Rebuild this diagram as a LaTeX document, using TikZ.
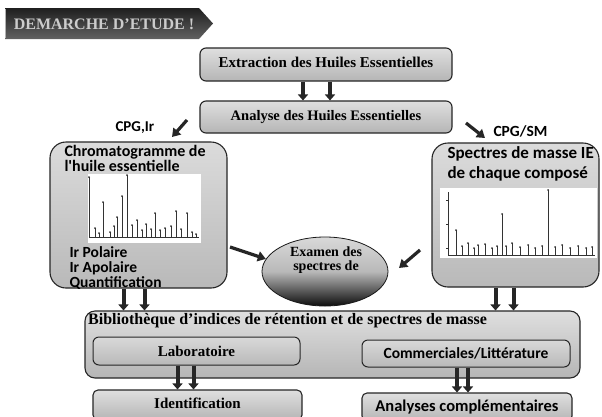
\documentclass[tikz,border=0pt]{standalone}
\usepackage{fontspec}
\setmainfont{Liberation Serif}
\newfontfamily\carl{Carlito}
\usetikzlibrary{shapes.geometric,arrows.meta,calc}
\begin{document}
\begin{tikzpicture}[x=1pt,y=-1pt,
  hbox/.style={draw=black!85, line width=1.1pt, rounded corners=6pt,
    top color=gray!25, bottom color=gray!58, inner sep=0pt},
  bigbox/.style={draw=black!85, line width=1.1pt, rounded corners=16pt,
    top color=gray!28, bottom color=gray!55, inner sep=0pt},
  inbox/.style={draw=black!85, line width=1pt, rounded corners=6pt,
    top color=gray!30, bottom color=gray!55, inner sep=0pt},
  sansT/.style={font=\carl\bfseries\fontsize{16}{16}\selectfont, text=black},
  barrow/.style={draw=black!85, line width=4pt, -{Triangle[width=10pt,length=6pt]}},
  darrow/.style={draw=black!85, line width=3.2pt, -{Triangle[width=10pt,length=8pt]}},
  peak/.style={draw=black!80, line width=0.45pt},
]
\useasboundingbox[fill=white] (0,0) rectangle (602,416);

% title banner
\shade[top color=black!88, bottom color=black!62] (5,8) -- (199,8) -- (213,23.5) -- (199,39) -- (5,39) -- cycle;
\draw[gray!60, line width=0.6pt] (5.5,9) -- (5.5,38);
\node[font=\bfseries\fontsize{16}{16}\selectfont, text=gray!40] (title) at (104,24) {DEMARCHE D'ETUDE !};

% top boxes
\node[hbox, minimum width=252pt, minimum height=33pt] (extr) at (326,64.5)
  {\raisebox{5pt}{\bfseries\fontsize{15}{15}\selectfont Extraction des Huiles Essentielles}};
\node[hbox, minimum width=252pt, minimum height=32pt] (anal) at (326,117)
  {\raisebox{4pt}{\bfseries\fontsize{14.5}{15}\selectfont Analyse des Huiles Essentielles}};

\draw[barrow] ([xshift=-23pt]extr.south) -- ([xshift=-23pt]extr.south |- anal.north);
\draw[barrow] ([xshift=4pt]extr.south) -- ([xshift=4pt]extr.south |- anal.north);

% CPG labels with small arrows
\node[sansT, font=\carl\bfseries\fontsize{15}{15}\selectfont, anchor=west] (cpgir) at (112,128) {CPG,Ir};
\coordinate (a1s) at (187,120);
\coordinate (a1e) at (172,137);
\draw[darrow] (a1s) -- (a1e);
\node[sansT, font=\carl\bfseries\fontsize{15.5}{15}\selectfont, anchor=west] (cpgsm) at (490,131) {CPG/SM};
\coordinate (a2s) at (466,123);
\coordinate (a2e) at (485,138);
\draw[darrow] (a2s) -- (a2e);

% left box: chromatogram
\node[bigbox, minimum width=177pt, minimum height=146pt] (lbox) at (138.5,215) {};
\node[sansT, anchor=north west, align=left, font=\carl\bfseries\fontsize{16}{15}\selectfont] (ltxt) at (61,142)
  {Chromatogramme de\\l'huile essentielle};
\fill[white] (88,174) rectangle (201,243);
\draw[peak] (89,237.5) -- (199,237.5);
\foreach \x/\t in {89/177,95/228,99/233,103/202,110/232,114/226,117/217,122/196,127/175,132/225,137/220,
  142/230,146/224,151/229,155/213,160/230,165/228,171/226,176/211,181/229,187/213,192/232,196/234}{
  \draw[peak] (\x,237.5) -- (\x,\t);
  \fill[black!80] (\x,\t) circle (1pt);
}
\node[sansT, anchor=north west, align=left, font=\carl\bfseries\fontsize{15.5}{15}\selectfont] (ltxt2) at (66,243)
  {Ir Polaire\\Ir Apolaire\\Quantification};

% right box: mass spectra
\node[bigbox, minimum width=167pt, minimum height=144pt] (rbox) at (515.5,215) {};
\node[sansT, anchor=north west, align=left, font=\carl\bfseries\fontsize{17}{20}\selectfont] (rtxt) at (444,143)
  {Spectres de masse IE\\de chaque composé};
\fill[white] (440,188) rectangle (597,258);
\draw[peak] (448,192) -- (448,255) -- (595,255);
\foreach \y in {200,224,248}{\draw[peak] (446,\y) -- (448,\y);}
\foreach \x/\t in {456/230,462/246,468/243,474/248,478/245,485/244,492/248,497/246,502/214,506/246,512/243,
  520/247,528/245,535/248,542/246,548/190,555/247,562/245,570/248,578/246,586/248,592/247}{
  \draw[peak] (\x,255) -- (\x,\t);
  \fill[black!80] (\x,\t) circle (1pt);
}

% central ellipse
\node[ellipse, draw=black!90, line width=0.8pt, top color=gray!30, bottom color=black!95,
  middle color=gray!55, minimum width=126pt, minimum height=69pt, inner sep=0pt] (ell) at (325,271.5) {};
\node[align=center, font=\bfseries\fontsize{14}{14}\selectfont, text=black] (etxt) at (326,260)
  {Examen des\\spectres de};

\coordinate (la) at (230,247);
\draw[darrow] (la) -- (ell.168);
\coordinate (ra) at (420,250);
\coordinate (rae) at (399,268);
\draw[darrow] (ra) -- (rae);

% library box
\node[hbox, rounded corners=10pt, minimum width=495pt, minimum height=67pt] (bib) at (332.5,344.5) {};
\node[anchor=west, font=\bfseries\fontsize{16}{16}\selectfont, inner sep=0pt] (bibtxt) at (88,321)
  {Bibliothèque d'indices de rétention et de spectres de masse};
\node[inbox, minimum width=207pt, minimum height=28pt] (labo) at (196.5,351)
  {\bfseries\fontsize{15}{15}\selectfont Laboratoire};
\node[inbox, minimum width=208pt, minimum height=27pt] (comm) at (466,353.5)
  {\carl\bfseries\fontsize{15.5}{15}\selectfont Commerciales/Littérature};

\draw[barrow] ([xshift=-15pt]lbox.south) -- ([xshift=-15pt]lbox.south |- bib.north);
\draw[barrow] ([xshift=6pt]lbox.south) -- ([xshift=6pt]lbox.south |- bib.north);
\draw[barrow] ([xshift=-20pt]rbox.south) -- ([xshift=-20pt]rbox.south |- bib.north);
\draw[barrow] ([xshift=-2pt]rbox.south) -- ([xshift=-2pt]rbox.south |- bib.north);

% bottom boxes
\node[hbox, rounded corners=5pt, minimum width=209pt, minimum height=30pt] (ident) at (197.5,405)
  {\raisebox{3pt}{\bfseries\fontsize{15}{15}\selectfont Identification}};
\node[hbox, rounded corners=5pt, minimum width=210pt, minimum height=28pt] (anac) at (467,407)
  {\raisebox{3pt}{\carl\bfseries\fontsize{16.5}{15}\selectfont Analyses complémentaires}};

\draw[barrow] ([xshift=-19pt]labo.south) -- ([xshift=-19pt]labo.south |- ident.north);
\draw[barrow] ([xshift=-3pt]labo.south) -- ([xshift=-3pt]labo.south |- ident.north);
\draw[barrow] ([xshift=-9pt]comm.south) -- ([xshift=-9pt]comm.south |- anac.north);
\draw[barrow] ([xshift=2pt]comm.south) -- ([xshift=2pt]comm.south |- anac.north);
\end{tikzpicture}
\end{document}
